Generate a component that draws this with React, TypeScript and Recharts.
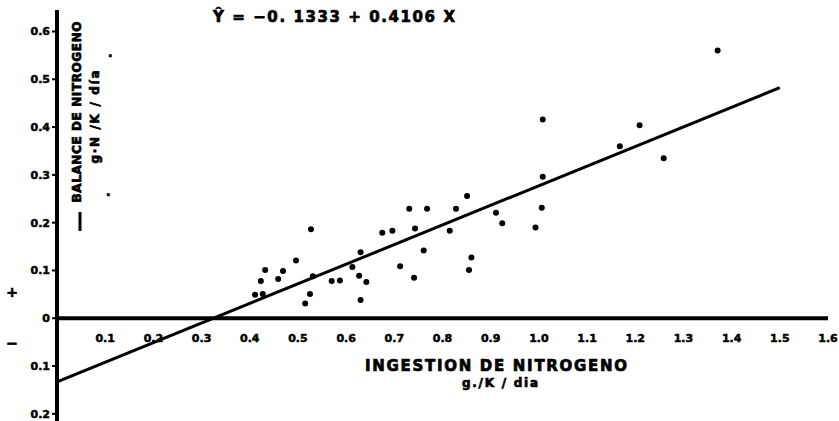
import {
  ScatterChart,
  Scatter,
  XAxis,
  YAxis,
  ReferenceLine,
  ReferenceDot,
} from "recharts";

// nitrogen intake (g/K/dia) and nitrogen balance (g N/K/dia)
const intake = [
  0.411, 0.427, 0.423, 0.432, 0.459, 0.469, 0.496, 0.527, 0.531, 0.525,
  0.515, 0.57, 0.587, 0.613, 0.63, 0.627, 0.642, 0.63, 0.675, 0.696,
  0.731, 0.768, 0.743, 0.761, 0.712, 0.741, 0.815, 0.828, 0.851, 0.86,
  0.855, 0.911, 0.924, 1.008, 1.008, 1.006, 0.993, 1.168, 1.209, 1.259,
  1.371,
];
const balance = [
  0.049, 0.051, 0.078, 0.101, 0.082, 0.099, 0.121, 0.186, 0.088, 0.051,
  0.031, 0.078, 0.079, 0.107, 0.138, 0.089, 0.076, 0.038, 0.179, 0.183,
  0.229, 0.229, 0.188, 0.142, 0.109, 0.085, 0.183, 0.229, 0.256, 0.127,
  0.101, 0.221, 0.199, 0.416, 0.296, 0.231, 0.19, 0.36, 0.404, 0.335,
  0.56,
];

// fitted line Y = -0.1333 + 0.4106 X, drawn from X = 0 to X = 1.5
const fitStart = { x: 0, y: -0.1333 };
const fitEnd = { x: 1.5, y: 0.4826 };

const xTicks = [0.1, 0.2, 0.3, 0.4, 0.5, 0.6, 0.7, 0.8, 0.9, 1.0, 1.1, 1.2, 1.3, 1.4, 1.5, 1.6];
const yTicks = [-0.2, -0.1, 0, 0.1, 0.2, 0.3, 0.4, 0.5, 0.6];

const points = intake.map((x, i) => ({ x, y: balance[i] }));

const FONT = "'DejaVu Sans', sans-serif";

const Dot = (props: any) => <circle cx={props.cx} cy={props.cy} r={3} fill="#000" />;

export default function App() {
  return (
    <div style={{ position: "absolute", left: 0, top: 0, width: 839, height: 421, background: "#fff" }}>
      <ScatterChart width={839} height={421} margin={{ top: 10, right: 11, bottom: 0, left: 0 }}>
        <XAxis type="number" dataKey="x" domain={[0, 1.6]} hide />
        <YAxis
          type="number"
          dataKey="y"
          domain={[-0.215, 0.645]}
          ticks={yTicks}
          interval={0}
          width={57}
          tickFormatter={(v: number) => (v === 0 ? "0" : Math.abs(v).toFixed(1))}
          axisLine={{ stroke: "#000", strokeWidth: 4 }}
          tickLine={{ stroke: "#000", strokeWidth: 2 }}
          tickSize={5}
          tickMargin={2}
          tick={{ fill: "#000", stroke: "#000", strokeWidth: 0.5, fontSize: 11, fontWeight: 700, fontFamily: FONT }}
        />
        <ReferenceLine y={0} stroke="#000" strokeWidth={4} />
        <ReferenceLine
          segment={[fitStart, fitEnd]}
          stroke="#000"
          strokeWidth={3}
        />
        {xTicks.map((t) => (
          <ReferenceDot
            key={t}
            x={t}
            y={0}
            r={1}
            fill="none"
            stroke="none"
            label={{
              value: t.toFixed(1),
              position: "bottom",
              offset: 15,
              fill: "#000",
              stroke: "#000",
              strokeWidth: 0.5,
              fontSize: 11,
              fontWeight: 700,
              fontFamily: FONT,
            }}
          />
        ))}
        <Scatter data={points} fill="#000" shape={Dot} isAnimationActive={false} />
      </ScatterChart>
      <svg
        width={839}
        height={421}
        style={{ position: "absolute", left: 0, top: 0, pointerEvents: "none" }}
        fontFamily={FONT}
        fontWeight={700}
        stroke="#000"
        strokeWidth={0.7}
      >
        <text x={213} y={22} fontSize={15} textLength={242} lengthAdjust="spacing">
          Ŷ = −0. 1333 + 0.4106 X
        </text>
        <text x={496} y={371} fontSize={15} textAnchor="middle" textLength={262} lengthAdjust="spacing">
          INGESTION DE NITROGENO
        </text>
        <text x={500} y={387} fontSize={12} textAnchor="middle" textLength={76} lengthAdjust="spacing">
          g./K / dia
        </text>
        <text transform="translate(81,112) rotate(-90)" fontSize={12} textAnchor="middle" textLength={181} lengthAdjust="spacing">
          BALANCE DE NITROGENO
        </text>
        <text transform="translate(99,117) rotate(-90)" fontSize={12} textAnchor="middle" textLength={93} lengthAdjust="spacing">
          g·N /K / día
        </text>
        <line x1={80} y1={212} x2={80} y2={231} stroke="#000" strokeWidth={3} />
        <text x={108} y={57} fontSize={12}>.</text>
        <text x={106} y={196} fontSize={12}>.</text>
        <text x={12} y={297} fontSize={14} textAnchor="middle">+</text>
        <text x={12} y={348} fontSize={14} textAnchor="middle">−</text>
      </svg>
    </div>
  );
}
